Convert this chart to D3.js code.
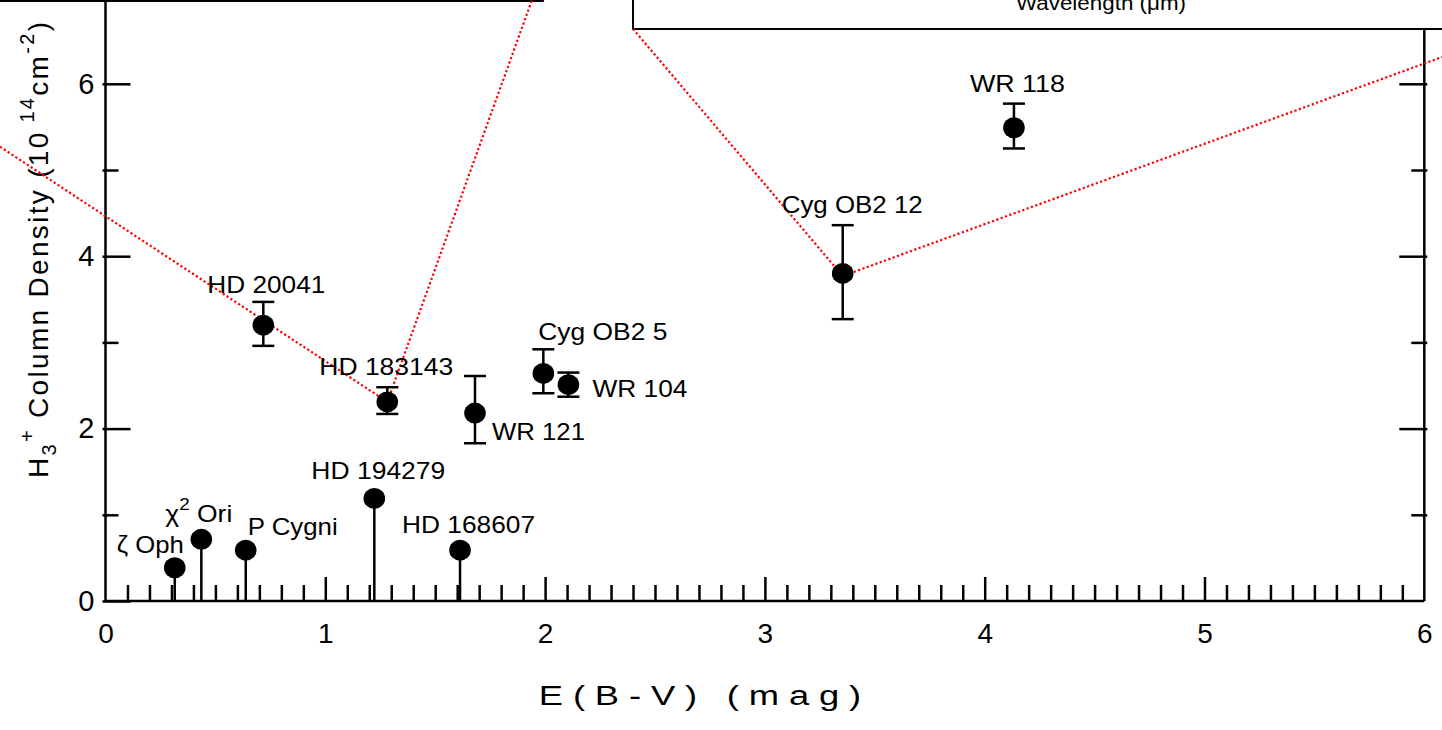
<!DOCTYPE html>
<html><head><meta charset="utf-8">
<script src="https://cdn.jsdelivr.net/npm/d3@7"></script>
<style>html,body{margin:0;padding:0;background:#fff;overflow:hidden}</style>
</head><body><svg id="c" width="1442" height="730"></svg>
<script>
// ---------- data ----------
const stars     = ["ζ Oph","χ2 Ori","P Cygni","HD 194279","HD 168607","HD 20041","HD 183143","WR 121","Cyg OB2 5","WR 104","Cyg OB2 12","WR 118"];
const ebv       = [0.315, 0.436, 0.638, 1.223, 1.613, 0.718, 1.282, 1.681, 1.992, 2.106, 3.354, 4.133];
const h3Density = [0.386, 0.715, 0.59, 1.19, 0.59, 3.20, 2.31, 2.18, 2.64, 2.51, 3.80, 5.49];
const errLow    = [0, 0, 0, 0, 0, 2.96, 2.17, 1.83, 2.41, 2.37, 3.27, 5.25];
const errHigh   = [0.386, 0.715, 0.59, 1.19, 0.59, 3.47, 2.48, 2.61, 2.92, 2.65, 4.36, 5.77];
const xTickValues = [0, 1, 2, 3, 4, 5, 6];
const yTickValues = [0, 2, 4, 6];
const zoomLeftX  = [-0.48, 1.282, 1.94];
const zoomLeftY  = [5.27, 2.31, 6.97];
const zoomRightX = [2.40, 3.354, 6.081];
const zoomRightY = [6.636, 3.77, 6.311];
const insetLeftX = [-1, 1.99];   const insetLeftBottom = 6.96;
const insetRightX = [2.40, 6.3]; const insetRightBottom = 6.636;
const insetTitle = "Wavelength (μm)";

// ---------- label layout (pixel offsets from the point) ----------
const labelLayout = {
  "ζ Oph":[-58,-15,67], "χ2 Ori":[-36,-17,67], "P Cygni":[2,-15,90],
  "HD 194279":[-63,-19,134], "HD 168607":[-58,-17,133], "HD 20041":[-56,-32,118],
  "HD 183143":[-68,-27,134], "WR 121":[17,27,93], "Cyg OB2 5":[-5,-33,129],
  "WR 104":[24,12,95], "Cyg OB2 12":[-61,-60,141], "WR 118":[-44,-36,95]
};

const svg = d3.select("#c");
const FONT = "Liberation Sans, Arial, sans-serif";
const x = d3.scaleLinear().domain([0, 6]).range([105.5, 1424.3]);
const y = d3.scaleLinear().domain([0, 7]).range([601, 601 - 7 * 86.2]);

// inset boxes (cropped at top of frame)
svg.append("path")
  .attr("d", `M${x(insetLeftX[0])},${y(insetLeftBottom)}H${x(insetLeftX[1])}V-20`)
  .attr("fill","none").attr("stroke","#000").attr("stroke-width",2);
svg.append("path")
  .attr("d", `M${x(insetRightX[0])},-20V${y(insetRightBottom)}H${x(insetRightX[1])}`)
  .attr("fill","none").attr("stroke","#000").attr("stroke-width",2);
svg.append("text").attr("x", 1101).attr("y", 10)
  .attr("text-anchor","middle").attr("font-family",FONT).attr("font-size",20)
  .attr("textLength",170).attr("lengthAdjust","spacingAndGlyphs")
  .text(insetTitle);

// axes frame
const axisG = svg.append("g").attr("stroke","#000").attr("stroke-width",2.5).attr("fill","none");
axisG.append("line").attr("x1",x(0)).attr("x2",x(0)).attr("y1",-5).attr("y2",y(0));
axisG.append("line").attr("x1",x(0)).attr("x2",x(6)).attr("y1",y(0)).attr("y2",y(0));
axisG.append("line").attr("x1",x(6)).attr("x2",x(6)).attr("y1",y(insetRightBottom)).attr("y2",y(0));

// bottom ticks (inward)
const xMinor = d3.range(0, 60).map(i => i / 10).filter(v => Math.abs(v - Math.round(v)) > 1e-6);
const bottomMajor = d3.axisTop(x).tickValues(xTickValues.slice(1, 6)).tickSize(24).tickFormat("");
const bottomMinor = d3.axisTop(x).tickValues(xMinor).tickSize(16).tickFormat("");
[bottomMajor, bottomMinor].forEach(ax => {
  const g = svg.append("g").attr("transform", `translate(0,${y(0)})`).call(ax);
  g.select(".domain").remove();
  g.selectAll("line").attr("stroke","#000").attr("stroke-width",2.5);
});
// x tick labels
const bottomLabels = d3.axisBottom(x).tickValues(xTickValues).tickSize(0).tickPadding(22).tickFormat(d3.format("d"));
const bl = svg.append("g").attr("transform", `translate(0,${y(0)})`).call(bottomLabels);
bl.select(".domain").remove();
bl.selectAll("text").attr("font-family",FONT).attr("font-size",28).attr("fill","#000");

// left ticks
const yMinor = [1, 3, 5, 7];
const leftMajor = d3.axisRight(y).tickValues(yTickValues).tickSize(25).tickFormat("");
const leftMinor = d3.axisRight(y).tickValues(yMinor).tickSize(13).tickFormat("");
[leftMajor, leftMinor].forEach(ax => {
  const g = svg.append("g").attr("transform", `translate(${x(0)},0)`).call(ax);
  g.select(".domain").remove();
  g.selectAll("line").attr("stroke","#000").attr("stroke-width",2.5).attr("x1",-3);
});
const leftLabels = d3.axisLeft(y).tickValues(yTickValues).tickSize(0).tickPadding(11).tickFormat(d3.format("d"));
const ll = svg.append("g").attr("transform", `translate(${x(0)},0)`).call(leftLabels);
ll.select(".domain").remove();
ll.selectAll("text").attr("font-family",FONT).attr("font-size",29).attr("fill","#000");

// right ticks
const rightMajor = d3.axisLeft(y).tickValues(yTickValues.filter(v=>v>0)).tickSize(25).tickFormat("");
const rightMinor = d3.axisLeft(y).tickValues([1,3,5]).tickSize(13).tickFormat("");
[rightMajor, rightMinor].forEach(ax => {
  const g = svg.append("g").attr("transform", `translate(${x(6)},0)`).call(ax);
  g.select(".domain").remove();
  g.selectAll("line").attr("stroke","#000").attr("stroke-width",2.5).attr("x1",3);
});

// axis titles
svg.append("text").attr("transform","translate(700,705) scale(1.3,1)").attr("text-anchor","middle")
  .attr("font-family",FONT).attr("font-size",28)
  .attr("textLength",248).attr("lengthAdjust","spacing")
  .text("E(B-V) (mag)");

const yt = svg.append("text").attr("transform","translate(48,478) rotate(-90)")
  .attr("font-family",FONT).attr("font-size",28).attr("textLength",456).attr("lengthAdjust","spacing");
yt.append("tspan").text("H");
yt.append("tspan").attr("font-size",20).attr("dy",8).text("3");
yt.append("tspan").attr("font-size",20).attr("dy",-22).text("+");
yt.append("tspan").attr("dy",14).text(" Column Density (10");
yt.append("tspan").attr("font-size",20).attr("dy",-14).text(" 14");
yt.append("tspan").attr("dy",14).text("cm");
yt.append("tspan").attr("font-size",20).attr("dy",-14).text("-2");
yt.append("tspan").attr("dy",14).text(")");

// zoom connector lines
const lineGen = d3.line().x(d => x(d[0])).y(d => y(d[1]));
[[zoomLeftX, zoomLeftY], [zoomRightX, zoomRightY]].forEach(([xs, ys]) => {
  svg.append("path").attr("d", lineGen(xs.map((v, i) => [v, ys[i]])))
    .attr("fill","none").attr("stroke","#ff0000").attr("stroke-width",2.2)
    .attr("stroke-dasharray","2.2,2.4");
});

// data
const data = stars.map((s, i) => ({name: s, x: ebv[i], y: h3Density[i], lo: errLow[i], hi: errHigh[i]}));
const pts = svg.append("g");
pts.selectAll("line.err").data(data).enter().append("line")
  .attr("x1", d => x(d.x)).attr("x2", d => x(d.x))
  .attr("y1", d => y(d.lo)).attr("y2", d => y(d.hi))
  .attr("stroke","#000").attr("stroke-width",2.5);
data.filter(d => d.lo > 0).forEach(d => {
  [d.lo, d.hi].forEach(v => {
    pts.append("line").attr("x1", x(d.x) - 11).attr("x2", x(d.x) + 11)
      .attr("y1", y(v)).attr("y2", y(v)).attr("stroke","#000").attr("stroke-width",2.5);
  });
});
pts.selectAll("ellipse").data(data).enter().append("ellipse")
  .attr("cx", d => x(d.x)).attr("cy", d => y(d.y)).attr("rx", 10.8).attr("ry", 10.5)
  .attr("fill","#000");

// labels
const lab = svg.append("g").attr("font-family",FONT).attr("font-size",24).attr("fill","#000");
data.forEach(d => {
  const [dx, dy, w] = labelLayout[d.name];
  const t = lab.append("text").attr("x", x(d.x) + dx).attr("y", y(d.y) + dy)
    .attr("textLength", w).attr("lengthAdjust","spacingAndGlyphs");
  if (d.name === "χ2 Ori") {
    t.append("tspan").text("χ");
    t.append("tspan").attr("font-size",17).attr("dy",-12).text("2");
    t.append("tspan").attr("dy",12).text(" Ori");
  } else {
    t.text(d.name);
  }
});
</script></body></html>
